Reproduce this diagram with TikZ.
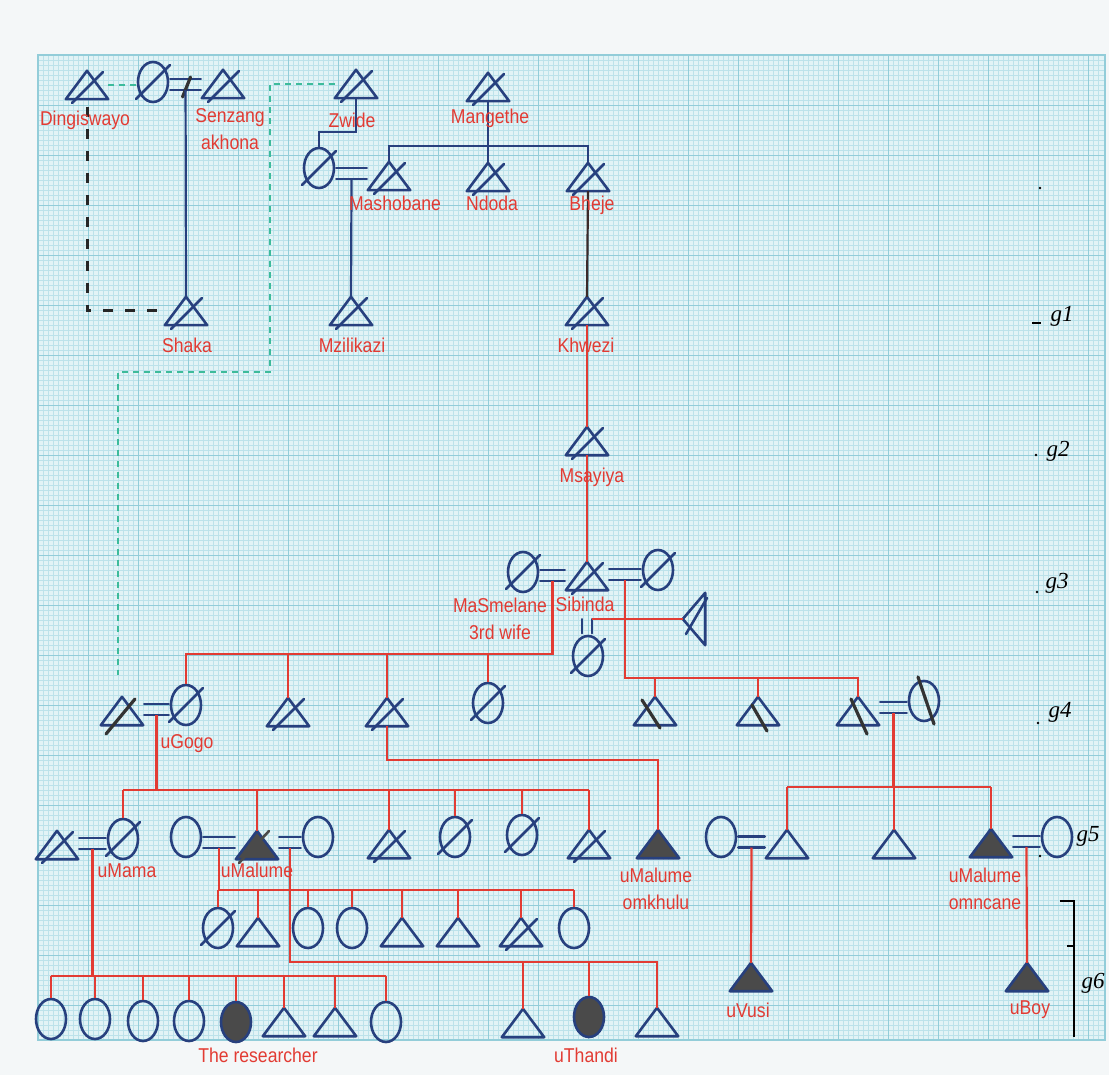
\documentclass[tikz,border=0pt]{standalone}
\usepackage{fontspec}
\setmainfont{Liberation Sans}
\newfontfamily\tagfont{Liberation Sans}[FakeStretch=0.88]
\newfontfamily\hand{Liberation Serif}
\usetikzlibrary{calc,positioning,shapes.geometric}

\definecolor{sheet}{HTML}{F4F7F8}
\definecolor{paper}{HTML}{E2F3F6}
\definecolor{gridlo}{HTML}{BCE2EA}
\definecolor{gridhi}{HTML}{93CDD9}
\definecolor{ink}{HTML}{27407E}
\definecolor{redink}{HTML}{E23B33}
\definecolor{shade}{HTML}{4A4A4A}
\definecolor{darkline}{HTML}{3A2A2A}
\definecolor{guidecol}{HTML}{3DBB9B}

\newcommand{\male}[3][]{%
  \node[man] (#2) at (#3) {};
  \draw[sym,#1] (#2.south west) -- (#2.north) -- (#2.south east) -- cycle;}
\newcommand{\female}[3][]{%
  \node[woman,#1] (#2) at (#3) {};}
\newcommand{\deadm}[1]{\draw[sym] ($(#1.center)+(-15,18)$) -- ($(#1.center)+(16,-13)$);}
\newcommand{\deadf}[1]{\draw[sym] ($(#1.center)+(-17,17)$) -- ($(#1.center)+(17,-17)$);}
\newcommand{\wed}[3]{%
  \coordinate (#3) at ($(#1.east)!.5!(#2.west)+(0,7)$);
  \draw[sym] ($(#1.east |- #3)+(1,-11)$) -- ($(#2.west |- #3)+(-1,-11)$)
    ($(#1.east |- #3)+(1,0)$) -- ($(#2.west |- #3)+(-1,0)$);}

\begin{document}
\begin{tikzpicture}[x=1pt,y=-1pt,
  man/.style={minimum width=42pt,minimum height=28pt,inner sep=0pt},
  woman/.style={ellipse,draw=ink,line width=2.6pt,minimum width=30pt,minimum height=40pt,inner sep=0pt},
  sym/.style={draw=ink,line width=2.6pt,line join=round,line cap=round},
  kin/.style={draw=redink,line width=2.2pt},
  tie/.style={draw=ink,line width=2.2pt},
  tag/.style={text=redink,font=\tagfont\fontsize{20}{27}\selectfont,align=center,inner sep=0pt},
  gen/.style={font=\hand\itshape\fontsize{23}{24}\selectfont,inner sep=0pt},
  inkslash/.style={draw=black!80,line width=3.2pt,line cap=round},
  pledge/.style={draw=black!85,line width=3pt,dash pattern=on 10pt off 12pt},
  guide/.style={draw=guidecol,line width=1.2pt,dash pattern=on 6pt off 5pt}]

  % graph paper
  \fill[sheet] (0,0) rectangle (1109,1075);
  \fill[paper] (38,55) rectangle (1105,1040);
  \foreach \x in {43,48,...,1100} \draw[gridlo,line width=0.3pt] (\x,55) -- (\x,1040);
  \foreach \y in {60,65,...,1035} \draw[gridlo,line width=0.3pt] (38,\y) -- (1105,\y);
  \foreach \x in {88,138,...,1088} \draw[gridhi,line width=0.6pt] (\x,55) -- (\x,1040);
  \foreach \y in {105,155,...,1005} \draw[gridhi,line width=0.6pt] (38,\y) -- (1105,\y);
  \draw[gridhi,line width=1.2pt] (38,55) rectangle (1105,1040);

  % first generations
  \male{dingiswayo}{87,85} \deadm{dingiswayo}
  \female{nandi}{153,82} \deadf{nandi}
  \male{senzangakhona}{223,84} \deadm{senzangakhona}
  \wed{nandi}{senzangakhona}{w1}
  \draw[inkslash] ($(w1)+(-3,7)$) -- ($(w1)+(5,-13)$);
  \male{shaka}{186,311} \deadm{shaka}
  \draw[tie] (w1) -- (shaka.north);
  \draw[pledge] ($(dingiswayo.south)+(0,8)$) |- (shaka.west);
  \draw[guide] (dingiswayo.east) -- (dingiswayo.east -| nandi.west);

  \male{zwide}{356,84} \deadm{zwide}
  \female{zmother}{319,168} \deadf{zmother}
  \male{mashobane}{389,176} \deadm{mashobane}
  \wed{zmother}{mashobane}{w2}
  \draw[tie] (zwide.south) -- ++(0,34) -| (zmother.north);
  \male{mzilikazi}{351,311} \deadm{mzilikazi}
  \draw[tie] (w2) -- (mzilikazi.north);
  \coordinate (gc) at (118,675);
  \draw[guide] (zwide.west) -| (270,372) -| (gc);

  \male{mangethe}{488,87} \deadm{mangethe}
  \male{ndoda}{488,177} \deadm{ndoda}
  \male{bheje}{588,177} \deadm{bheje}
  \coordinate (b0) at (0,146);
  \draw[tie] (mangethe.south) -- (ndoda.north);
  \draw[tie] (mashobane.north) |- (b0 -| bheje.north) -- (bheje.north);

  \male{khwezi}{587,311} \deadm{khwezi}
  \draw[tie,draw=darkline] (bheje.south) -- (khwezi.north);
  \male{msayiya}{587,441} \deadm{msayiya}
  \draw[kin] (khwezi.south) -- (msayiya.north);
  \male{sibinda}{587,576} \deadm{sibinda}
  \draw[kin] (msayiya.south) -- (sibinda.north);
  \female{masmelane}{523,572} \deadf{masmelane}
  \female{wifeb}{658,570} \deadf{wifeb}
  \female{wifec}{588,656} \deadf{wifec}
  \wed{masmelane}{sibinda}{w3}
  \wed{sibinda}{wifeb}{w5}
  \draw[sym] ($(sibinda.south)+(-5,29)$) -- ($(sibinda.south)+(-5,43)$)
    ($(sibinda.south)+(5,29)$) -- ($(sibinda.south)+(5,43)$);
  \coordinate (w4) at ($(sibinda.south)+(5,29)$);
  \node[man,minimum width=22pt,minimum height=52pt] (sidem) at (694,619) {};
  \draw[sym] (sidem.west) -- (sidem.north east) -- (sidem.south east) -- cycle;
  \draw[sym] ($(sidem.center)+(-8,15)$) -- ($(sidem.center)+(13,-21)$);
  \draw[kin] (w4) -- (w4 -| sidem.west);

  % g4
  \male{husband}{122,711}
  \draw[inkslash] ($(husband.center)+(-16,23)$) -- ($(husband.center)+(13,-12)$);
  \female{gogo}{186,705} \deadf{gogo}
  \wed{husband}{gogo}{w6}
  \male{sonb}{288,712} \deadm{sonb}
  \male{sonc}{387,712} \deadm{sonc}
  \female{daud}{488,703} \deadf{daud}
  \coordinate (b4) at (0,654);
  \draw[kin] (w3) |- (b4 -| gogo.north) -- (gogo.north);
  \foreach \c in {sonb,sonc,daud} \draw[kin] (\c.north |- b4) -- (\c.north);

  \male{sone}{655,711}
  \male{sonf}{758,711}
  \male{song}{858,711}
  \female{wifeg}{924,701}
  \wed{song}{wifeg}{w7}
  \coordinate (b4r) at (0,678);
  \draw[kin] (w5) |- (b4r -| song.north) -- (song.north);
  \foreach \c in {sone,sonf} \draw[kin] (\c.north |- b4r) -- (\c.north);
  \draw[inkslash] ($(sone.center)+(-13,-11)$) -- ($(sone.center)+(5,17)$);
  \draw[inkslash] ($(sonf.center)+(-6,-6)$) -- ($(sonf.center)+(9,20)$);
  \draw[inkslash] ($(song.center)+(-7,-12)$) -- ($(song.center)+(9,23)$);
  \draw[inkslash] ($(wifeg.center)+(-6,-24)$) -- ($(wifeg.center)+(10,23)$);

  % g5
  \male{papa}{57,845} \deadm{papa}
  \female{mama}{123,839} \deadf{mama}
  \wed{papa}{mama}{w8}
  \female{wifea}{186,837}
  \male[fill=shade]{malume}{257,845}
  \draw[sym,draw=shade] ($(malume.center)+(-18,18)$) -- ($(malume.center)+(12,-14)$);
  \female{wifed}{318,837}
  \wed{wifea}{malume}{w9}
  \wed{malume}{wifed}{w10}
  \male{sibh}{389,844} \deadm{sibh}
  \female{sibi}{455,837} \deadf{sibi}
  \female{sibj}{522,835} \deadf{sibj}
  \male{sibk}{589,844} \deadm{sibk}
  \coordinate (b5) at (0,790);
  \draw[kin] (w6) -- (w6 |- b5);
  \draw[kin] (mama.north |- b5) -- (sibk.north |- b5);
  \foreach \c in {mama,malume,sibh,sibi,sibj,sibk} \draw[kin] (\c.north |- b5) -- (\c.north);

  \male[fill=shade]{omkhulu}{658,844}
  \draw[kin] (sonc.south) -- ++(0,34) -| (omkhulu.north);

  \female{wifeh}{721,837}
  \male{sonl}{787,844}
  \male{sonm}{894,844}
  \male[fill=shade]{omncane}{991,843}
  \female{wifei}{1057,837}
  \wed{wifeh}{sonl}{w11}
  \wed{omncane}{wifei}{w12}
  \coordinate (b5r) at (0,787);
  \draw[kin] (w7) -- (w7 |- b5r);
  \draw[kin] (sonl.north |- b5r) -- (omncane.north |- b5r);
  \foreach \c in {sonl,sonm,omncane} \draw[kin] (\c.north |- b5r) -- (\c.north);

  % g6
  \female{ca1}{218,928} \deadf{ca1}
  \male{ca2}{258,932}
  \female{ca3}{308,928}
  \female{ca4}{352,928}
  \male{ca5}{402,932}
  \male{ca6}{458,932}
  \male{ca7}{521,932} \deadm{ca7}
  \female{ca8}{574,928}
  \coordinate (b6) at (0,890);
  \draw[kin] (w9) -- (w9 |- b6);
  \draw[kin] (ca1.north |- b6) -- (ca8.north |- b6);
  \foreach \c in {ca1,ca2,ca3,ca4,ca5,ca6,ca7,ca8} \draw[kin] (\c.north |- b6) -- (\c.north);

  \male{cb1}{523,1023}
  \female[fill=shade]{thandi}{589,1017}
  \male{cb3}{657,1022}
  \coordinate (b7) at (0,962);
  \draw[kin] (w10) |- (b7 -| cb3.north) -- (cb3.north);
  \foreach \c in {cb1,thandi} \draw[kin] (\c.north |- b7) -- (\c.north);

  \female{cc1}{51,1019}
  \female{cc2}{95,1019}
  \female{cc3}{143,1021}
  \female{cc4}{189,1021}
  \female[fill=shade]{me}{236,1022}
  \male{cc6}{284,1022}
  \male{cc7}{335,1022}
  \female{cc8}{386,1022}
  \coordinate (b8) at (0,976);
  \draw[kin] (w8) -- (w8 |- b8);
  \draw[kin] (cc1.north |- b8) -- (cc8.north |- b8);
  \foreach \c in {cc1,cc2,cc3,cc4,me,cc6,cc7,cc8} \draw[kin] (\c.north |- b8) -- (\c.north);

  \male[fill=shade]{vusi}{751,977}
  \draw[kin] (w11) -- (vusi.north);
  \male[fill=shade]{boy}{1027,977}
  \draw[kin] (w12) -- (boy.north);

  % names
  \node[tag] (tDingiswayo) at (85,120) {Dingiswayo};
  \node[tag] (tSenzang) at (230,129) {Senzang\\akhona};
  \node[tag] (tShaka) at (187,345) {Shaka};
  \node[tag] (tZwide) at (352,120) {Zwide};
  \node[tag] (tMangethe) at (490,118) {Mangethe};
  \node[tag] (tMashobane) at (395,203) {Mashobane};
  \node[tag] (tNdoda) at (492,203) {Ndoda};
  \node[tag] (tBheje) at (592,205) {Bheje};
  \node[tag] (tMzilikazi) at (352,345) {Mzilikazi};
  \node[tag] (tKhwezi) at (586,345) {Khwezi};
  \node[tag] (tMsayiya) at (592,477) {Msayiya};
  \node[tag] (tSibinda) at (585,604) {Sibinda};
  \node[tag] (tMaSmelane) at (500,619) {MaSmelane\\3rd wife};
  \node[tag] (tGogo) at (187,744) {uGogo};
  \node[tag] (tMama) at (127,871) {uMama};
  \node[tag] (tMalume) at (257,870) {uMalume};
  \node[tag] (tOmkhulu) at (656,889) {uMalume\\omkhulu};
  \node[tag] (tOmncane) at (985,889) {uMalume\\omncane};
  \node[tag] (tVusi) at (748,1010) {uVusi};
  \node[tag] (tBoy) at (1030,1010) {uBoy};
  \node[tag] (tResearcher) at (258,1055) {The researcher};
  \node[tag] (tThandi) at (586,1055) {uThandi};

  % generations
  \node[gen] (g1) at (1062,316) {g1};
  \node[gen] (g2) at (1058,451) {g2};
  \node[gen] (g3) at (1057,583) {g3};
  \node[gen] (g4) at (1060,712) {g4};
  \node[gen] (g5) at (1088,836) {g5};
  \node[gen] (g6) at (1093,983) {g6};
  \draw[line width=2pt] (1032,323) -- (1041,323);
  \foreach \p in {(1040,188),(1036,455),(1037,592),(1038,723),(1040,856)} \fill \p circle (1.3);
  \draw[line width=2.5pt] (1060,901) -- (1074,901) -- (1074,1037);
  \draw[line width=2pt] (1067,946) -- (1074,946);
\end{tikzpicture}
\end{document}
